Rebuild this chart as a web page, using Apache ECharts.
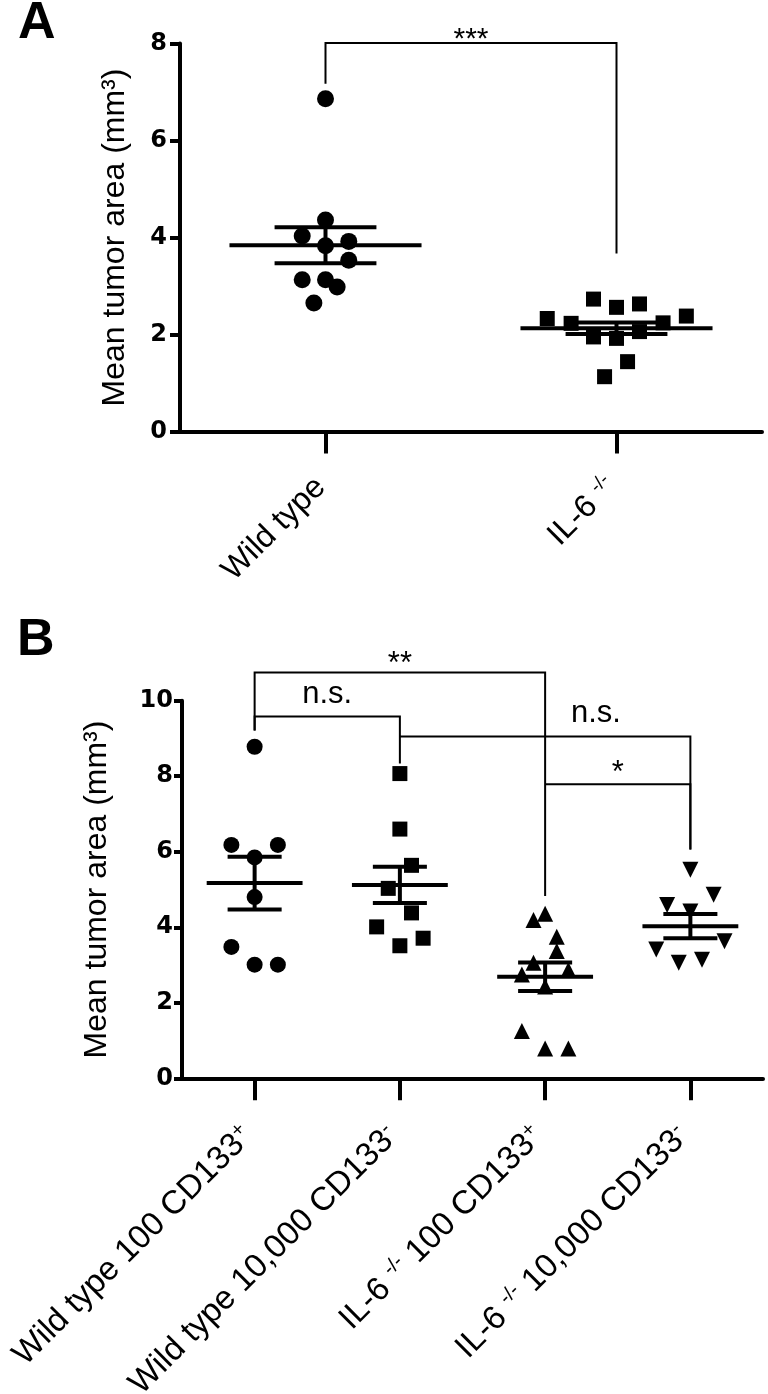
<!DOCTYPE html>
<html>
<head>
<meta charset="utf-8">
<script src="https://cdn.jsdelivr.net/npm/echarts@6/dist/echarts.min.js"></script>
<style>
html,body{margin:0;padding:0;background:#fff;}
#c{width:768px;height:1394px;}
</style>
</head>
<body>
<div id="c"></div>
<script>
// ---------- Panel A data ----------
const catsA = ['Wild type', 'IL-6 ^-/-^'];
const ticksA = [0, 2, 4, 6, 8];
const wtA = [6.86, 4.36, 4.03, 3.92, 3.83, 3.53, 3.13, 3.13, 2.98, 2.65];
const wtAJitter = [0, 0, -0.08, 0.08, 0, 0.08, -0.08, 0, 0.04, -0.04];
const koA = [2.33, 2.73, 2.56, 2.63, 2.38, 2.23, 2.24, 1.95, 1.92, 2.06, 1.44, 1.13];
const koAJitter = [-0.238, -0.079, 0, 0.079, 0.24, -0.156, 0.16, -0.079, 0, 0.079, 0.038, -0.041];
const meanA = [3.84, 2.13];
const semA = [0.37, 0.12];
// bracket: [x1, x2, yTop, yLeftEnd, yRightEnd]
const bracketsA = [[0, 1, 8.01, 7.17, 3.67]];
const signifA = [['***', 0.5, 8.08]];

// ---------- Panel B data ----------
const catsB = ['Wild type 100 CD133^+^', 'Wild type 10,000 CD133^-^', 'IL-6 ^-/-^ 100 CD133^+^', 'IL-6 ^-/-^ 10,000 CD133^-^'];
const ticksB = [0, 2, 4, 6, 8, 10];
const g1B = [8.78, 6.18, 6.18, 5.85, 4.80, 3.48, 3.01, 3.01];
const g1BJitter = [0, -0.16, 0.16, 0, 0, -0.16, 0, 0.16];
const g2B = [8.07, 6.60, 5.64, 5.03, 4.38, 4.01, 3.71, 3.51];
const g2BJitter = [0, 0, 0.08, -0.08, 0.08, -0.16, 0.16, 0];
const g3B = [4.19, 4.36, 3.75, 3.37, 3.06, 2.75, 2.87, 2.43, 1.25, 0.79, 0.79];
const g3BJitter = [-0.08, 0, 0.08, 0.08, -0.08, -0.16, 0.16, 0, -0.16, 0, 0.16];
const g4B = [5.52, 4.86, 4.59, 4.42, 3.63, 3.41, 3.06, 3.14];
const g4BJitter = [0, 0.16, -0.16, 0, 0.235, -0.235, -0.08, 0.08];
const meanB = [5.17, 5.12, 2.69, 4.03];
const semB = [0.70, 0.48, 0.38, 0.32];
const bracketsB = [
  [0, 2, 10.75, 9.21, 4.83],
  [0, 1, 9.58, 9.21, 8.34],
  [1, 3, 9.05, 9.05, 6.06],
  [2, 3, 7.79, 7.79, 6.06]
];
const signifB = [['**', 1.0, 10.95], ['n.s.', 0.5, 10.16], ['n.s.', 2.35, 9.65], ['*', 2.5, 8.08]];

// ---------- helpers ----------
const FONT = '"Liberation Sans", Arial, sans-serif';
const FONT_NUM = '"DejaVu Sans", sans-serif';
const BLACK = '#000';

function richLabel(v) {
  return v.split('^').map((t, i) => t === '' ? '' : (i % 2 ? '{s|' + t + '}' : '{n|' + t + '}')).join('');
}
function richStyles(size) {
  return {
    n: { fontFamily: FONT, fontSize: size, lineHeight: size + 2, color: BLACK },
    s: { fontFamily: FONT, fontSize: Math.round(size * 0.6), lineHeight: Math.round(size * 0.6), verticalAlign: 'top', color: BLACK }
  };
}

function pts(vals, jit, g) { return vals.map((v, i) => [g + jit[i], v]); }

function errRender(halfMean, halfSem) {
  return function (params, api) {
    const x = api.value(0), m = api.value(1), s = api.value(2);
    const segs = [
      [x - halfMean, m, x + halfMean, m],
      [x - halfSem, m + s, x + halfSem, m + s],
      [x - halfSem, m - s, x + halfSem, m - s],
      [x, m - s, x, m + s]
    ];
    return {
      type: 'group',
      children: segs.map(([x1, y1, x2, y2]) => {
        const a = api.coord([x1, y1]), b = api.coord([x2, y2]);
        return { type: 'line', shape: { x1: a[0], y1: a[1], x2: b[0], y2: b[1] },
                 style: { stroke: BLACK, lineWidth: 4, fill: null } };
      })
    };
  };
}
function bracketRender(params, api) {
  const x1 = api.value(0), x2 = api.value(1), yt = api.value(2), yl = api.value(3), yr = api.value(4);
  const p = [api.coord([x1, yl]), api.coord([x1, yt]), api.coord([x2, yt]), api.coord([x2, yr])];
  return { type: 'polyline', shape: { points: p }, style: { stroke: BLACK, lineWidth: 2, fill: null } };
}
function textRender(list, size) {
  return function (params, api) {
    const c = api.coord([api.value(0), api.value(1)]);
    return { type: 'text', x: c[0], y: c[1],
      style: { text: list[params.dataIndex][0], fontFamily: FONT, fontSize: size, fill: BLACK,
               align: 'center', verticalAlign: 'middle' } };
  };
}

function catAxis(grid, data, margin, pad, size) {
  return {
    gridIndex: grid, type: 'category', data: data, boundaryGap: true, position: 'bottom',
    axisLine: { show: true, onZero: false, lineStyle: { color: BLACK, width: 4 } },
    axisTick: { show: true, alignWithLabel: true, length: 22, lineStyle: { color: BLACK, width: 4 } },
    axisLabel: { interval: 0, rotate: 45, margin: margin, padding: [0, pad, 0, 0],
                 formatter: richLabel, rich: richStyles(size), color: BLACK, fontFamily: FONT, fontSize: size },
    splitLine: { show: false }
  };
}
function hiddenX(grid, n) {
  return { gridIndex: grid, type: 'value', min: -0.5, max: n - 0.5, show: false, position: 'top',
           axisLine: { onZero: false }, splitLine: { show: false } };
}
function valAxis(grid, max, tickLen, labMargin, nameGap) {
  return {
    gridIndex: grid, type: 'value', min: 0, max: max, interval: 2,
    axisLine: { show: true, onZero: false, lineStyle: { color: BLACK, width: 4 } },
    axisTick: { show: true, length: tickLen, lineStyle: { color: BLACK, width: 4 } },
    axisLabel: { margin: labMargin, color: BLACK, fontFamily: FONT_NUM, fontWeight: 'bold', fontSize: 24 },
    splitLine: { show: false },
    name: 'Mean tumor area (mm\u00B3)', nameLocation: 'middle', nameGap: nameGap,
    nameTextStyle: { fontFamily: FONT, fontSize: 32, color: BLACK }
  };
}

const scatterBase = { type: 'scatter', symbolSize: 16, itemStyle: { color: BLACK, opacity: 1 }, z: 3, silent: true };

const option = {
  backgroundColor: '#fff',
  animation: false,
  textStyle: { fontFamily: FONT },
  grid: [
    { left: 180, top: 43.5, width: 582, height: 388, containLabel: false, outerBoundsMode: 'none' },
    { left: 182, top: 700.7, width: 581, height: 377.6, containLabel: false, outerBoundsMode: 'none' }
  ],
  xAxis: [
    catAxis(0, catsA, 46, 7, 32),
    hiddenX(0, catsA.length),
    catAxis(1, catsB, 46, 10, 33),
    hiddenX(1, catsB.length)
  ],
  yAxis: [
    valAxis(0, ticksA[ticksA.length - 1], 10, 13, 49),
    valAxis(1, ticksB[ticksB.length - 1], 8, 9, 69)
  ],
  graphic: [
    { type: 'text', left: 18, top: -2, style: { text: 'A', fontFamily: FONT, fontWeight: 'bold', fontSize: 52, fill: BLACK } },
    { type: 'text', left: 17, top: 615, style: { text: 'B', fontFamily: FONT, fontWeight: 'bold', fontSize: 52, fill: BLACK } }
  ],
  series: [
    Object.assign({}, scatterBase, { xAxisIndex: 1, yAxisIndex: 0, symbol: 'circle', symbolSize: 17, data: pts(wtA, wtAJitter, 0) }),
    Object.assign({}, scatterBase, { xAxisIndex: 1, yAxisIndex: 0, symbol: 'rect', symbolSize: 15, data: pts(koA, koAJitter, 1) }),
    { type: 'custom', xAxisIndex: 1, yAxisIndex: 0, clip: false, z: 4, silent: true,
      renderItem: errRender(0.33, 0.175), data: meanA.map((m, i) => [i, m, semA[i]]), encode: { x: 0, y: 1 } },
    { type: 'custom', xAxisIndex: 1, yAxisIndex: 0, clip: false, z: 4, silent: true,
      renderItem: bracketRender, data: bracketsA, encode: { x: [0, 1], y: [2, 3, 4] } },
    { type: 'custom', xAxisIndex: 1, yAxisIndex: 0, clip: false, z: 5, silent: true,
      renderItem: textRender(signifA, 30), data: signifA.map(d => [d[1], d[2]]), encode: { x: 0, y: 1 } },

    Object.assign({}, scatterBase, { xAxisIndex: 3, yAxisIndex: 1, symbol: 'circle', data: pts(g1B, g1BJitter, 0) }),
    Object.assign({}, scatterBase, { xAxisIndex: 3, yAxisIndex: 1, symbol: 'rect', symbolSize: 15, data: pts(g2B, g2BJitter, 1) }),
    Object.assign({}, scatterBase, { xAxisIndex: 3, yAxisIndex: 1, symbol: 'triangle', data: pts(g3B, g3BJitter, 2) }),
    Object.assign({}, scatterBase, { xAxisIndex: 3, yAxisIndex: 1, symbol: 'triangle', symbolRotate: 180, data: pts(g4B, g4BJitter, 3) }),
    { type: 'custom', xAxisIndex: 3, yAxisIndex: 1, clip: false, z: 4, silent: true,
      renderItem: errRender(0.33, 0.186), data: meanB.map((m, i) => [i, m, semB[i]]), encode: { x: 0, y: 1 } },
    { type: 'custom', xAxisIndex: 3, yAxisIndex: 1, clip: false, z: 4, silent: true,
      renderItem: bracketRender, data: bracketsB, encode: { x: [0, 1], y: [2, 3, 4] } },
    { type: 'custom', xAxisIndex: 3, yAxisIndex: 1, clip: false, z: 5, silent: true,
      renderItem: textRender(signifB, 31), data: signifB.map(d => [d[1], d[2]]), encode: { x: 0, y: 1 } }
  ]
};

const chart = echarts.init(document.getElementById('c'), null, { renderer: 'canvas', width: 768, height: 1394 });
chart.setOption(option);
</script>
</body>
</html>
